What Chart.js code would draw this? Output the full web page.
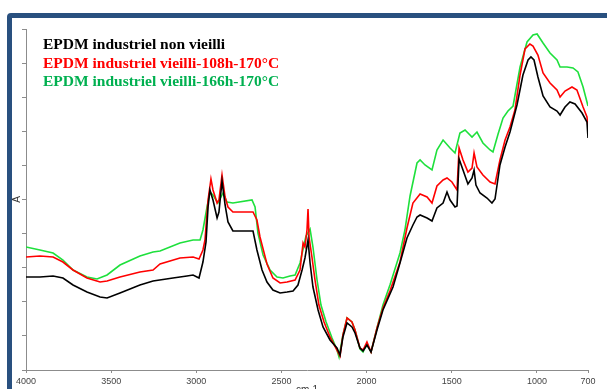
<!DOCTYPE html>
<html><head><meta charset="utf-8">
<script src="https://cdn.jsdelivr.net/npm/chart.js@4.4.1/dist/chart.umd.min.js"></script>
<style>
html,body{margin:0;padding:0;background:#fff;overflow:hidden;width:607px;height:389px;}
#frame{position:absolute;left:7px;top:13px;width:700px;height:500px;border:5px solid #29507f;border-radius:4px;box-sizing:border-box;}
#wrap{position:absolute;left:0;top:0;width:607px;height:400px;}
</style></head><body>
<div id="frame"></div>
<div id="wrap"><canvas id="c" width="607" height="400" style="width:607px;height:400px"></canvas></div>
<script>
// Series names
const seriesLabels = [
  "EPDM industriel non vieilli",
  "EPDM industriel vieilli-108h-170\u00B0C",
  "EPDM industriel vieilli-166h-170\u00B0C"
];
// x-axis tick labels (cm-1)
const xTicks = [4000, 3500, 3000, 2500, 2000, 1500, 1000, 700];

// EPDM industriel non vieilli
const blackWn = [4000,3918,3841,3783,3724,3642,3565,3524,3448,3331,3254,3137,3055,3019,2984,2961,2943,2931,2920,2902,2878,2867,2849,2831,2814,2785,2667,2644,2614,2585,2550,2508,2467,2432,2403,2379,2362,2344,2332,2315,2285,2256,2215,2174,2156,2139,2115,2086,2068,2039,2021,1998,1974,1939,1904,1845,1804,1763,1728,1704,1686,1645,1616,1587,1551,1528,1510,1481,1469,1457,1434,1405,1381,1369,1358,1334,1293,1264,1246,1217,1187,1158,1117,1082,1052,1035,1017,994,964,923,882,864,835,806,776,735,706,700];
const blackA  = [0.93,0.93,0.94,0.92,0.85,0.78,0.73,0.72,0.77,0.85,0.89,0.92,0.94,0.95,0.92,1.08,1.28,1.63,1.80,1.70,1.52,1.58,1.89,1.65,1.48,1.39,1.39,1.20,1.00,0.88,0.80,0.77,0.78,0.79,0.85,1.00,1.12,1.30,1.07,0.83,0.60,0.43,0.30,0.22,0.15,0.33,0.47,0.43,0.37,0.22,0.19,0.25,0.18,0.40,0.60,0.83,1.07,1.32,1.45,1.53,1.55,1.52,1.49,1.62,1.67,1.78,1.70,1.63,1.64,2.11,2.00,1.86,1.92,2.00,1.85,1.77,1.72,1.67,1.71,2.05,2.23,2.38,2.65,2.95,3.10,3.13,3.10,2.93,2.74,2.63,2.59,2.55,2.63,2.68,2.66,2.57,2.48,2.32];

// EPDM industriel vieilli-108h-170°C
const redWn = [4000,3918,3841,3783,3724,3642,3565,3524,3448,3331,3254,3213,3096,3019,2984,2961,2949,2931,2914,2902,2878,2867,2849,2831,2814,2785,2667,2644,2626,2585,2550,2508,2467,2420,2391,2373,2362,2350,2344,2338,2321,2303,2280,2250,2215,2174,2156,2139,2115,2086,2068,2039,2021,1998,1974,1939,1904,1863,1804,1763,1728,1686,1645,1616,1587,1551,1528,1499,1469,1457,1434,1405,1381,1369,1352,1317,1275,1246,1217,1187,1158,1129,1099,1070,1041,1023,994,964,923,882,864,835,794,765,729,706,700];
const redA  = [1.13,1.14,1.13,1.08,1.00,0.92,0.88,0.89,0.93,0.98,1.00,1.06,1.12,1.13,1.11,1.20,1.30,1.70,1.91,1.80,1.67,1.70,1.95,1.73,1.63,1.58,1.58,1.50,1.33,1.06,0.92,0.87,0.88,0.90,1.00,1.27,1.23,1.40,1.61,1.33,1.13,0.90,0.65,0.48,0.33,0.20,0.14,0.35,0.52,0.48,0.40,0.22,0.20,0.28,0.18,0.42,0.62,0.79,1.08,1.42,1.67,1.76,1.73,1.67,1.84,1.90,1.92,1.88,1.80,2.22,2.10,1.98,2.02,2.17,2.03,1.95,1.88,1.86,2.10,2.30,2.43,2.60,2.95,3.21,3.26,3.24,3.15,2.97,2.87,2.80,2.73,2.79,2.83,2.80,2.63,2.53,2.43];

// EPDM industriel vieilli-166h-170°C
const greenWn = [4000,3918,3841,3783,3724,3642,3583,3524,3448,3331,3254,3213,3096,3019,2978,2961,2937,2920,2902,2873,2843,2820,2785,2673,2655,2638,2608,2567,2526,2491,2450,2420,2391,2356,2332,2315,2291,2268,2238,2203,2174,2162,2139,2115,2086,2068,2039,2021,1998,1974,1939,1904,1863,1804,1775,1745,1704,1686,1657,1616,1587,1551,1510,1481,1452,1422,1381,1352,1317,1275,1258,1228,1199,1170,1140,1099,1058,1023,999,964,923,882,864,823,788,759,729,700];
const greenA  = [1.23,1.20,1.17,1.10,1.00,0.93,0.91,0.95,1.05,1.14,1.18,1.19,1.27,1.30,1.30,1.40,1.63,1.78,1.75,1.67,1.77,1.68,1.67,1.70,1.63,1.37,1.15,1.00,0.93,0.92,0.94,0.95,1.07,1.34,1.41,1.23,0.90,0.65,0.48,0.32,0.20,0.13,0.35,0.52,0.48,0.40,0.21,0.18,0.26,0.18,0.42,0.65,0.85,1.17,1.40,1.74,2.07,2.10,2.05,2.00,2.20,2.30,2.22,2.17,2.37,2.40,2.33,2.38,2.27,2.20,2.18,2.36,2.52,2.59,2.64,3.03,3.28,3.35,3.36,3.27,3.17,3.10,3.03,3.03,3.02,2.98,2.83,2.64];

const lineColors = ["#000000", "#ff0000", "#1ee03c"];
const textColors = ["#000000", "#ff0000", "#00b050"];

function pts(xs, ys){ return xs.map((x,i)=>({x:x, y:ys[i]})); }

const legendText = {
  id: 'legendText',
  afterDraw(chart){
    const ctx = chart.ctx;
    ctx.save();
    ctx.font = 'bold 15.5px "Liberation Serif", "Times New Roman", serif';
    ctx.textBaseline = 'alphabetic';
    ctx.textAlign = 'left';
    seriesLabels.forEach((t,i)=>{
      ctx.fillStyle = textColors[i];
      ctx.fillText(t, 43, 49 + i*18.5);
    });
    ctx.restore();
  }
};

const YMAX = 3.41;
new Chart(document.getElementById('c'), {
  type: 'scatter',
  data: {
    datasets: [
      {label: seriesLabels[0], data: pts(blackWn, blackA), borderColor: lineColors[0]},
      {label: seriesLabels[1], data: pts(redWn, redA), borderColor: lineColors[1]},
      {label: seriesLabels[2], data: pts(greenWn, greenA), borderColor: lineColors[2]}
    ].map(d=>Object.assign(d, {showLine:true, pointRadius:0, borderWidth:1.6, tension:0, fill:false}))
  },
  options: {
    responsive: false,
    animation: false,
    events: [],
    layout: {padding: {top: 29, right: 19, left: 0, bottom: 0}},
    plugins: {legend: {display:false}, tooltip: {enabled:false}},
    scales: {
      x: {
        type: 'linear', reverse: true, min: 700, max: 4000,
        afterBuildTicks(s){ s.ticks = xTicks.map(v=>({value:v})); },
        afterFit(s){ s.height = 30; },
        grid: {drawOnChartArea:false, color:'#8c8c8c', tickLength:3},
        border: {color:'#8c8c8c', width:1},
        ticks: {font:{family:'"Liberation Sans", Arial, sans-serif', size:9}, color:'#444', padding:3, maxRotation:0, autoSkip:false,
                callback: (v)=>String(v)},
        title: {display:true, text:'cm-1', font:{family:'"Liberation Sans", Arial, sans-serif', size:10}, color:'#333', padding:{top:0, bottom:4}}
      },
      y: {
        type: 'linear', min: 0, max: YMAX,
        afterBuildTicks(s){ const t=[]; for(let i=0;i<=10;i++) t.push({value: YMAX*i/10}); s.ticks = t; },
        afterFit(s){ s.width = 26; },
        grid: {drawOnChartArea:false, color:'#8c8c8c', tickLength:4},
        border: {color:'#8c8c8c', width:1},
        ticks: {display:false},
        title: {display:true, text:'A', font:{family:'"Liberation Sans", Arial, sans-serif', size:10}, color:'#333', padding:{top:11, bottom:0}}
      }
    }
  },
  plugins: [legendText]
});
</script>
</body></html>
